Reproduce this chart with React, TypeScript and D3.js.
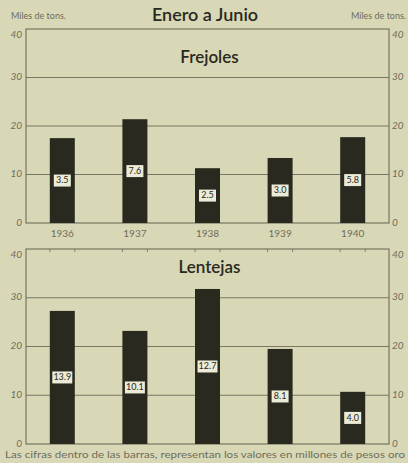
import React from 'react';
import * as d3 from 'd3';

const years = ['1936', '1937', '1938', '1939', '1940'];
const frejolesTons = [17.5, 21.4, 11.3, 13.4, 17.7];
const frejolesValores = ['3.5', '7.6', '2.5', '3.0', '5.8'];
const lentejasTons = [27.3, 23.2, 31.8, 19.5, 10.7];
const lentejasValores = ['13.9', '10.1', '12.7', '8.1', '4.0'];
const yTicks = [0, 10, 20, 30, 40];

const W = 408;
const H = 463;
const left = 26;
const right = 389;
const bg = '#d9d8b6';
const ink = '#2a2920';
const gray = '#6e6d5c';
const font = 'Lato, "DejaVu Sans", sans-serif';

function Panel({ top, bottom, title, titleY, values, labels, showYears, topMarks }) {
  const x = d3.scaleBand().domain(years).range([left, right]).padding(0);
  const y = d3.scaleLinear().domain([0, 40]).range([bottom, top]);
  const barW = 25;

  return (
    <g>
      {/* grid lines at 10, 20, 30 */}
      {yTicks.slice(1, 4).map((t) => (
        <line key={t} x1={left} x2={right} y1={y(t)} y2={y(t)} stroke={gray} strokeWidth={0.9} />
      ))}
      <rect x={left} y={top} width={right - left} height={bottom - top} fill="none" stroke={gray} strokeWidth={1.1} />
      {topMarks &&
        years.map((yr) => {
          const cx = x(yr) + x.bandwidth() / 2;
          return [-barW / 2, barW / 2].map((dx) => (
            <line key={yr + dx} x1={cx + dx} x2={cx + dx} y1={top} y2={top + 3} stroke={gray} strokeWidth={0.8} />
          ));
        })}
      {yTicks.map((t) => (
        <g key={t} fontFamily={font} fontSize={10} fill={gray} fontStyle="italic">
          <text x={left - 4} y={y(t) + (t === 40 ? 6 : 0)} textAnchor="end" dominantBaseline="middle">{t}</text>
          <text x={right + 3} y={y(t) + (t === 40 ? 6 : 0)} textAnchor="start" dominantBaseline="middle">{t}</text>
        </g>
      ))}
      <text x={(left + right) / 2 + 2} y={titleY} textAnchor="middle" fontFamily={font} fontSize={17} fontWeight="600" fill={ink}>{title}</text>
      {values.map((v, i) => {
        const cx = x(years[i]) + x.bandwidth() / 2;
        const mid = (y(v) + y(0)) / 2;
        const bw = labels[i].length > 3 ? 20 : 17;
        return (
          <g key={years[i]}>
            <rect x={cx - barW / 2} y={y(v)} width={barW} height={y(0) - y(v)} fill={ink} />
            <rect x={cx - bw / 2} y={mid - 6} width={bw} height={12} fill="#ecebd8" />
            <text x={cx} y={mid + 0.5} textAnchor="middle" dominantBaseline="middle" fontFamily={font} fontSize={9} fill={ink}>{labels[i]}</text>
          </g>
        );
      })}
      {showYears &&
        years.map((yr) => (
          <text key={yr} x={x(yr) + x.bandwidth() / 2} y={bottom + 14} textAnchor="middle" fontFamily={font} fontSize={10} fill={gray}>{yr}</text>
        ))}
    </g>
  );
}

export default function App() {
  return (
    <svg width={W} height={H} style={{ position: 'absolute', left: 0, top: 0 }}>
      <rect width={W} height={H} fill={bg} />
      <text x={205} y={21} textAnchor="middle" fontFamily={font} fontSize={18} fontWeight="600" fill={ink}>Enero a Junio</text>
      <text x={11} y={19} fontFamily={font} fontSize={9} fill={gray}>Miles de tons.</text>
      <text x={406} y={19} textAnchor="end" fontFamily={font} fontSize={9} fill={gray}>Miles de tons.</text>
      <Panel top={29} bottom={223} title="Frejoles" titleY={63} values={frejolesTons} labels={frejolesValores} showYears topMarks={false} />
      <Panel top={249} bottom={444} title="Lentejas" titleY={273} values={lentejasTons} labels={lentejasValores} showYears={false} topMarks />
      <text x={5} y={458} fontFamily={font} fontSize={9} fill={gray} textLength={400} lengthAdjust="spacingAndGlyphs">Las cifras dentro de las barras, representan los valores en millones de pesos oro</text>
    </svg>
  );
}
